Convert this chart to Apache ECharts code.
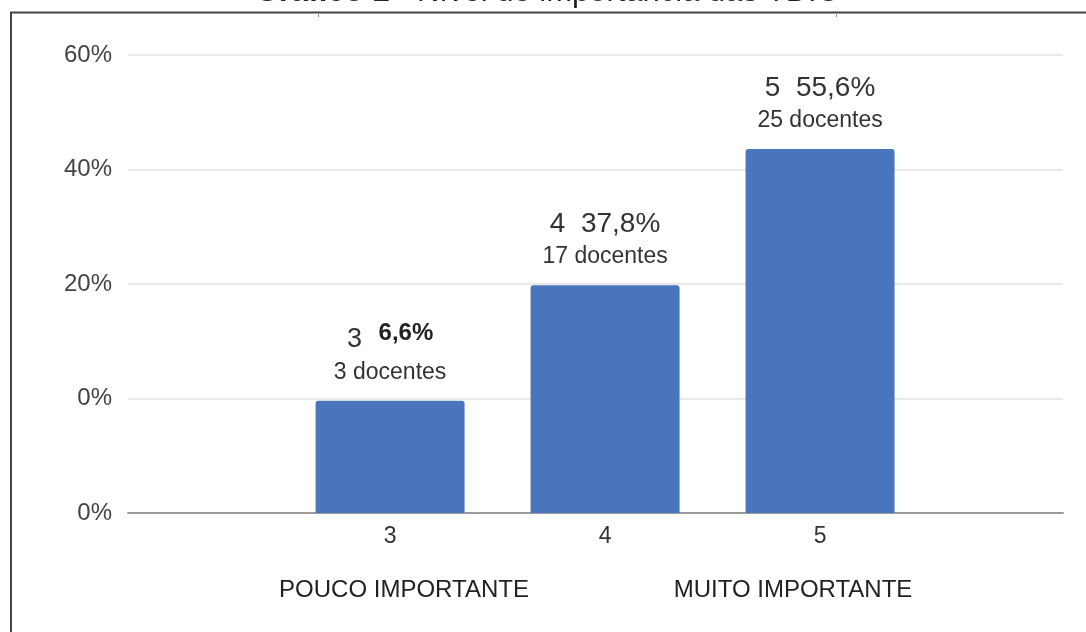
<!DOCTYPE html>
<html>
<head>
<meta charset="utf-8">
<script src="https://cdn.jsdelivr.net/npm/echarts@6/dist/echarts.min.js"></script>
<style>
html,body{margin:0;padding:0;background:#fff;}
#chart{width:1086px;height:632px;}
</style>
</head>
<body>
<div id="chart"></div>
<script>
// ---- data ----
const levels = ['3', '4', '5'];
const levelPositions = [3, 4, 5];
const barValues = [19.6, 39.8, 63.6];          // heights read against the drawn axis
const percentLabels = ['6,6%', '37,8%', '55,6%'];
const teacherCounts = [3, 17, 25];
const yTickLabels = ['0%', '0%', '20%', '40%', '60%'];
const bottomNotes = ['POUCO IMPORTANTE', 'MUITO IMPORTANTE'];
const titleBold = 'Gráfico 1';
const titleRest = ' - Nível de importância das TDIC';

const FONT = '"Liberation Sans", Arial, sans-serif';
const chart = echarts.init(document.getElementById('chart'), null, {renderer: 'canvas'});

const seriesData = levelPositions.map((p, i) => ({
  value: [p, barValues[i]],
  label: {
    formatter: i === 0
      ? '{n|' + levels[i] + '}     {pb|' + percentLabels[i] + '}\n{c|' + teacherCounts[i] + ' docentes}'
      : '{p|' + levels[i] + '  ' + percentLabels[i] + '}\n{c|' + teacherCounts[i] + ' docentes}'
  }
}));

chart.setOption({
  backgroundColor: '#ffffff',
  animation: false,
  grid: {left: 128, right: 23, top: 55, bottom: 119, containLabel: false},
  xAxis: {
    type: 'value',
    min: 1.781,
    max: 6.13,
    splitLine: {show: false},
    axisLine: {show: true, lineStyle: {color: '#9c9c9c', width: 2}},
    axisTick: {show: false},
    axisLabel: {
      customValues: levelPositions,
      formatter: v => levels[levelPositions.indexOf(Math.round(v))] || '',
      fontFamily: FONT, fontSize: 23, color: '#333', margin: 12
    }
  },
  yAxis: {
    type: 'value',
    min: 0, max: 80, interval: 20,
    axisLine: {show: false},
    axisTick: {show: false},
    splitLine: {lineStyle: {color: '#e2e2e2', width: 1.5}},
    axisLabel: {
      formatter: v => yTickLabels[Math.round(v / 20)],
      fontFamily: FONT, fontSize: 24, color: '#444', margin: 16
    }
  },
  series: [{
    type: 'bar',
    data: seriesData,
    barWidth: 149,
    itemStyle: {color: '#4875bb', borderRadius: [3, 3, 0, 0]},
    label: {
      show: true,
      position: 'top',
      distance: 13,
      align: 'center',
      rich: {
        n: {fontFamily: FONT, fontSize: 27, color: '#333', lineHeight: 36},
        pb: {fontFamily: FONT, fontSize: 24, fontWeight: 'bold', color: '#222', lineHeight: 36, verticalAlign: 'top'},
        p: {fontFamily: FONT, fontSize: 28, color: '#333', lineHeight: 36},
        c: {fontFamily: FONT, fontSize: 23, color: '#333', lineHeight: 30}
      }
    }
  }],
  graphic: [
    {
      type: 'text', z: 5,
      x: 547, y: 8,
      style: {
        rich: {
          b: {fontFamily: FONT, fontSize: 31, fontWeight: 'bold', fill: '#222'},
          r: {fontFamily: FONT, fontSize: 31, fill: '#222'}
        },
        text: '{b|' + titleBold + '}{r|' + titleRest + '}',
        align: 'center',
        verticalAlign: 'bottom'
      }
    },
    {type: 'line', z: 10, shape: {x1: 10, y1: 12.5, x2: 1086, y2: 12.5}, style: {stroke: '#444', lineWidth: 2}},
    {type: 'line', z: 10, shape: {x1: 11, y1: 12, x2: 11, y2: 632}, style: {stroke: '#444', lineWidth: 2}},
    {type: 'line', z: 10, shape: {x1: 318.5, y1: 13, x2: 318.5, y2: 17}, style: {stroke: '#999', lineWidth: 1}},
    {type: 'line', z: 10, shape: {x1: 836.5, y1: 13, x2: 836.5, y2: 17}, style: {stroke: '#999', lineWidth: 1}},
    {type: 'text', z: 5, x: 404, y: 590, style: {text: bottomNotes[0], fontFamily: FONT, fontSize: 24, fill: '#222', align: 'center', verticalAlign: 'middle'}},
    {type: 'text', z: 5, x: 793, y: 590, style: {text: bottomNotes[1], fontFamily: FONT, fontSize: 24, fill: '#222', align: 'center', verticalAlign: 'middle'}}
  ]
});
</script>
</body>
</html>
